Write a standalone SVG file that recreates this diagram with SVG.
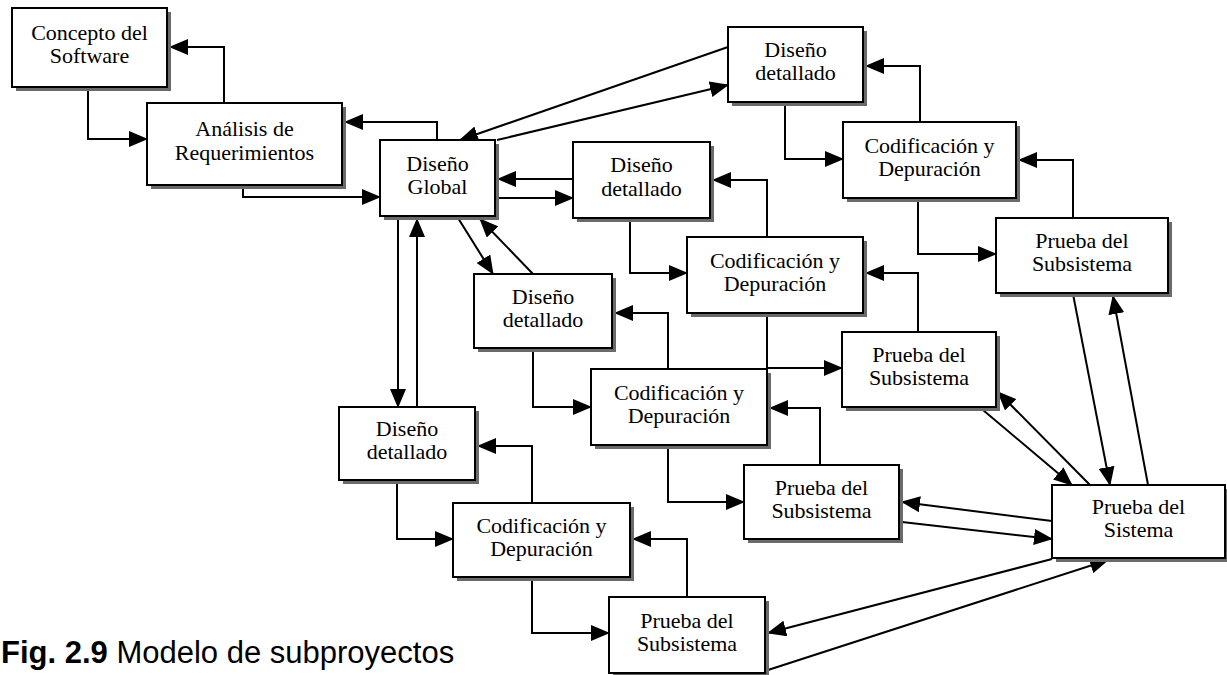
<svg xmlns="http://www.w3.org/2000/svg" width="1227" height="675" viewBox="0 0 1227 675">
<style>
.sh{fill:#6a6a6a;stroke:none}
.bx{fill:#fff;stroke:#000;stroke-width:2}
.t{font-family:"Liberation Serif","Times New Roman",serif;font-size:22px;fill:#000;text-anchor:middle}
.c{fill:none;stroke:#000;stroke-width:2;marker-end:url(#ah)}
.cap{font-family:"Liberation Sans",Arial,sans-serif;font-size:31px;fill:#000}
</style>
<defs>
<marker id="ah" markerWidth="19" markerHeight="16" refX="18" refY="8" orient="auto" markerUnits="userSpaceOnUse">
<path d="M0,0 L19,8 L0,16 z" fill="#000"/>
</marker>
</defs>
<rect width="1227" height="675" fill="#fff"/>

<g id="connectors">
<path class="c" d="M88,87 V139 H147"/>
<path class="c" d="M224,103 V47 H170"/>
<path class="c" d="M243,185 V197 H380"/>
<path class="c" d="M437,140 V122 H345"/>
<path class="c" d="M728,47 L460,140"/>
<path class="c" d="M497,140 L728,85"/>
<path class="c" d="M573,179 H498"/>
<path class="c" d="M499,198 H573"/>
<path class="c" d="M785,102 V159 H843"/>
<path class="c" d="M920,122 V66 H866"/>
<path class="c" d="M918,198 V254 H996"/>
<path class="c" d="M1073,218 V160 H1019"/>
<path class="c" d="M630,218 V273 H687"/>
<path class="c" d="M767,237 V180 H713"/>
<path class="c" d="M767,313 V368 H842"/>
<path class="c" d="M918,332 V273 H866"/>
<path class="c" d="M458,218 L493,274"/>
<path class="c" d="M533,274 L480,219"/>
<path class="c" d="M533,348 V407 H591"/>
<path class="c" d="M668,369 V313 H615"/>
<path class="c" d="M668,445 V502 H744"/>
<path class="c" d="M820,465 V408 H770"/>
<path class="c" d="M398,218 V407"/>
<path class="c" d="M417,407 V219"/>
<path class="c" d="M397,480 V539 H453"/>
<path class="c" d="M532,503 V446 H478"/>
<path class="c" d="M532,577 V633 H609"/>
<path class="c" d="M687,597 V539 H633"/>
<path class="c" d="M1073,294 L1110,485"/>
<path class="c" d="M1148,485 L1113,296"/>
<path class="c" d="M983,410 L1072,485"/>
<path class="c" d="M1090,485 L998,392"/>
<path class="c" d="M1052,521 L902,502"/>
<path class="c" d="M902,522 L1052,539"/>
<path class="c" d="M1052,559 L768,633"/>
<path class="c" d="M768,670 L1108,560"/>
</g>

<g id="n-concepto"><rect class="sh" x="16" y="12" width="155" height="79"/><rect class="bx" x="12" y="8" width="155" height="79"/><text class="t"><tspan x="89.5" y="40">Concepto del</tspan><tspan x="89.5" y="63">Software</tspan></text></g>
<g id="n-analisis"><rect class="sh" x="151" y="107" width="195" height="82"/><rect class="bx" x="147" y="103" width="195" height="82"/><text class="t"><tspan x="244.5" y="136">Análisis de</tspan><tspan x="244.5" y="160">Requerimientos</tspan></text></g>
<g id="n-global"><rect class="sh" x="384" y="144" width="115" height="76"/><rect class="bx" x="380" y="140" width="115" height="76"/><text class="t"><tspan x="437.5" y="171">Diseño</tspan><tspan x="437.5" y="194">Global</tspan></text></g>

<g id="n-dd1"><rect class="sh" x="732" y="31" width="135" height="75"/><rect class="bx" x="728" y="27" width="135" height="75"/><text class="t"><tspan x="795.5" y="57">Diseño</tspan><tspan x="795.5" y="80">detallado</tspan></text></g>
<g id="n-cd1"><rect class="sh" x="847" y="126" width="173" height="76"/><rect class="bx" x="843" y="122" width="173" height="76"/><text class="t"><tspan x="929.5" y="153">Codificación y</tspan><tspan x="929.5" y="176">Depuración</tspan></text></g>
<g id="n-ps1"><rect class="sh" x="1000" y="222" width="172" height="75"/><rect class="bx" x="996" y="218" width="172" height="75"/><text class="t"><tspan x="1082" y="248">Prueba del</tspan><tspan x="1082" y="271">Subsistema</tspan></text></g>

<g id="n-dd2"><rect class="sh" x="577" y="146" width="137" height="76"/><rect class="bx" x="573" y="142" width="137" height="76"/><text class="t"><tspan x="641.5" y="172">Diseño</tspan><tspan x="641.5" y="196">detallado</tspan></text></g>
<g id="n-cd2"><rect class="sh" x="691" y="241" width="176" height="76"/><rect class="bx" x="687" y="237" width="176" height="76"/><text class="t"><tspan x="775" y="268">Codificación y</tspan><tspan x="775" y="291">Depuración</tspan></text></g>
<g id="n-ps2"><rect class="sh" x="846" y="336" width="154" height="75"/><rect class="bx" x="842" y="332" width="154" height="75"/><text class="t"><tspan x="919" y="362">Prueba del</tspan><tspan x="919" y="385">Subsistema</tspan></text></g>

<g id="n-dd3"><rect class="sh" x="478" y="278" width="138" height="74"/><rect class="bx" x="474" y="274" width="138" height="74"/><text class="t"><tspan x="543" y="304">Diseño</tspan><tspan x="543" y="327">detallado</tspan></text></g>
<g id="n-cd3"><rect class="sh" x="595" y="373" width="176" height="76"/><rect class="bx" x="591" y="369" width="176" height="76"/><text class="t"><tspan x="679" y="400">Codificación y</tspan><tspan x="679" y="423">Depuración</tspan></text></g>
<g id="n-ps3"><rect class="sh" x="748" y="469" width="155" height="74"/><rect class="bx" x="744" y="465" width="155" height="74"/><text class="t"><tspan x="821.5" y="495">Prueba del</tspan><tspan x="821.5" y="518">Subsistema</tspan></text></g>

<g id="n-dd4"><rect class="sh" x="343" y="411" width="136" height="73"/><rect class="bx" x="339" y="407" width="136" height="73"/><text class="t"><tspan x="407" y="436">Diseño</tspan><tspan x="407" y="459">detallado</tspan></text></g>
<g id="n-cd4"><rect class="sh" x="457" y="507" width="177" height="74"/><rect class="bx" x="453" y="503" width="177" height="74"/><text class="t"><tspan x="541.5" y="533">Codificación y</tspan><tspan x="541.5" y="556">Depuración</tspan></text></g>
<g id="n-ps4"><rect class="sh" x="613" y="601" width="156" height="76"/><rect class="bx" x="609" y="597" width="156" height="76"/><text class="t"><tspan x="687" y="628">Prueba del</tspan><tspan x="687" y="651">Subsistema</tspan></text></g>

<g id="n-sistema"><rect class="sh" x="1056" y="489" width="173" height="73"/><rect class="bx" x="1052" y="485" width="173" height="73"/><text class="t"><tspan x="1138.5" y="514">Prueba del</tspan><tspan x="1138.5" y="537">Sistema</tspan></text></g>

<text class="cap" x="1" y="663"><tspan font-weight="bold">Fig. 2.9</tspan> Modelo de subproyectos</text>
</svg>
